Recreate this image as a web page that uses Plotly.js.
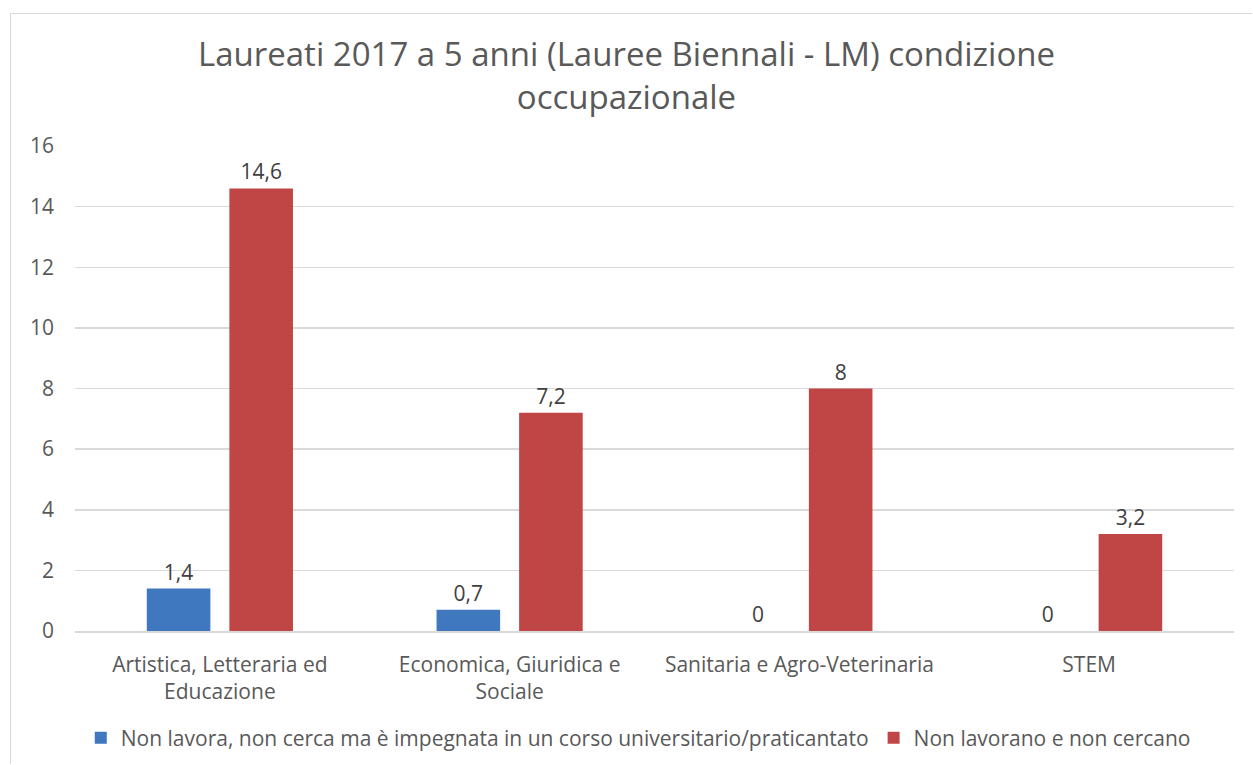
<!DOCTYPE html>
<html>
<head>
<meta charset="utf-8">
<script src="https://cdn.plot.ly/plotly-3.0.1.min.js"></script>
<style>
html,body{margin:0;padding:0;background:#fff;overflow:hidden;width:1253px;height:765px;}
#frame{position:absolute;left:10px;top:13px;width:1242px;height:751px;border-left:1px solid #d9d9d9;border-top:1px solid #d9d9d9;pointer-events:none;z-index:5;box-sizing:border-box;}
#chart{width:1253px;height:765px;}
</style>
</head>
<body>
<div id="frame"></div>
<div id="chart"></div>
<script>
const categories = ["Artistica, Letteraria ed<br>Educazione", "Economica, Giuridica e<br>Sociale", "Sanitaria e Agro-Veterinaria", "STEM"];
const seriesNames = ["Non lavora, non cerca ma è impegnata in un corso universitario/praticantato", "Non lavorano e non cercano"];
const valuesStudy = [1.4, 0.7, 0, 0];
const valuesInactive = [14.6, 7.2, 8, 3.2];
const yTicks = [0, 2, 4, 6, 8, 10, 12, 14, 16];

const font = "Open Sans, Liberation Sans, sans-serif";
const traces = [
  {type:'bar', name:seriesNames[0], x:categories, y:valuesStudy, marker:{color:'#3f78bf'},
   texttemplate:'%{y}', textposition:'outside', cliponaxis:false,
   textfont:{family:font, size:21, color:'#404040'}, hoverinfo:'none'},
  {type:'bar', name:seriesNames[1], x:categories, y:valuesInactive, marker:{color:'#c04646'},
   texttemplate:'%{y}', textposition:'outside', cliponaxis:false,
   textfont:{family:font, size:21, color:'#404040'}, hoverinfo:'none'}
];
const layout = {
  width:1253, height:765,
  margin:{l:75, r:19, t:146, b:134, autoexpand:false},
  paper_bgcolor:'#ffffff', plot_bgcolor:'#ffffff',
  separators:',.',
  font:{family:font, color:'#595959', size:21},
  title:{text:'Laureati 2017 a 5 anni (Lauree Biennali - LM) condizione<br>occupazionale',
         font:{family:font, size:33, color:'#595959'}, x:0.5, xanchor:'center', y:0.914, yanchor:'middle'},
  barmode:'group', bargap:0.43, bargroupgap:0.23,
  xaxis:{type:'category', showgrid:false, showline:true, linecolor:'#d9d9d9', linewidth:1.5,
         ticks:'', ticklabelstandoff:14, tickfont:{family:font, size:21, color:'#595959'}, automargin:false},
  yaxis:{range:[0,16], tickvals:yTicks, ticktext:yTicks.map(String), showgrid:true, gridcolor:'#d9d9d9',
         gridwidth:1.5, zeroline:false, showline:false, ticks:'', ticklen:0, ticklabelstandoff:20,
         tickfont:{family:font, size:21, color:'#595959'}, automargin:false},
  legend:{orientation:'h', x:0.486, xanchor:'center', y:-0.221, yanchor:'middle',
          font:{family:font, size:21, color:'#595959'}, itemwidth:30, traceorder:'normal'},
  showlegend:true
};
Plotly.newPlot('chart', traces, layout, {displayModeBar:false, staticPlot:true});
</script>
</body>
</html>
